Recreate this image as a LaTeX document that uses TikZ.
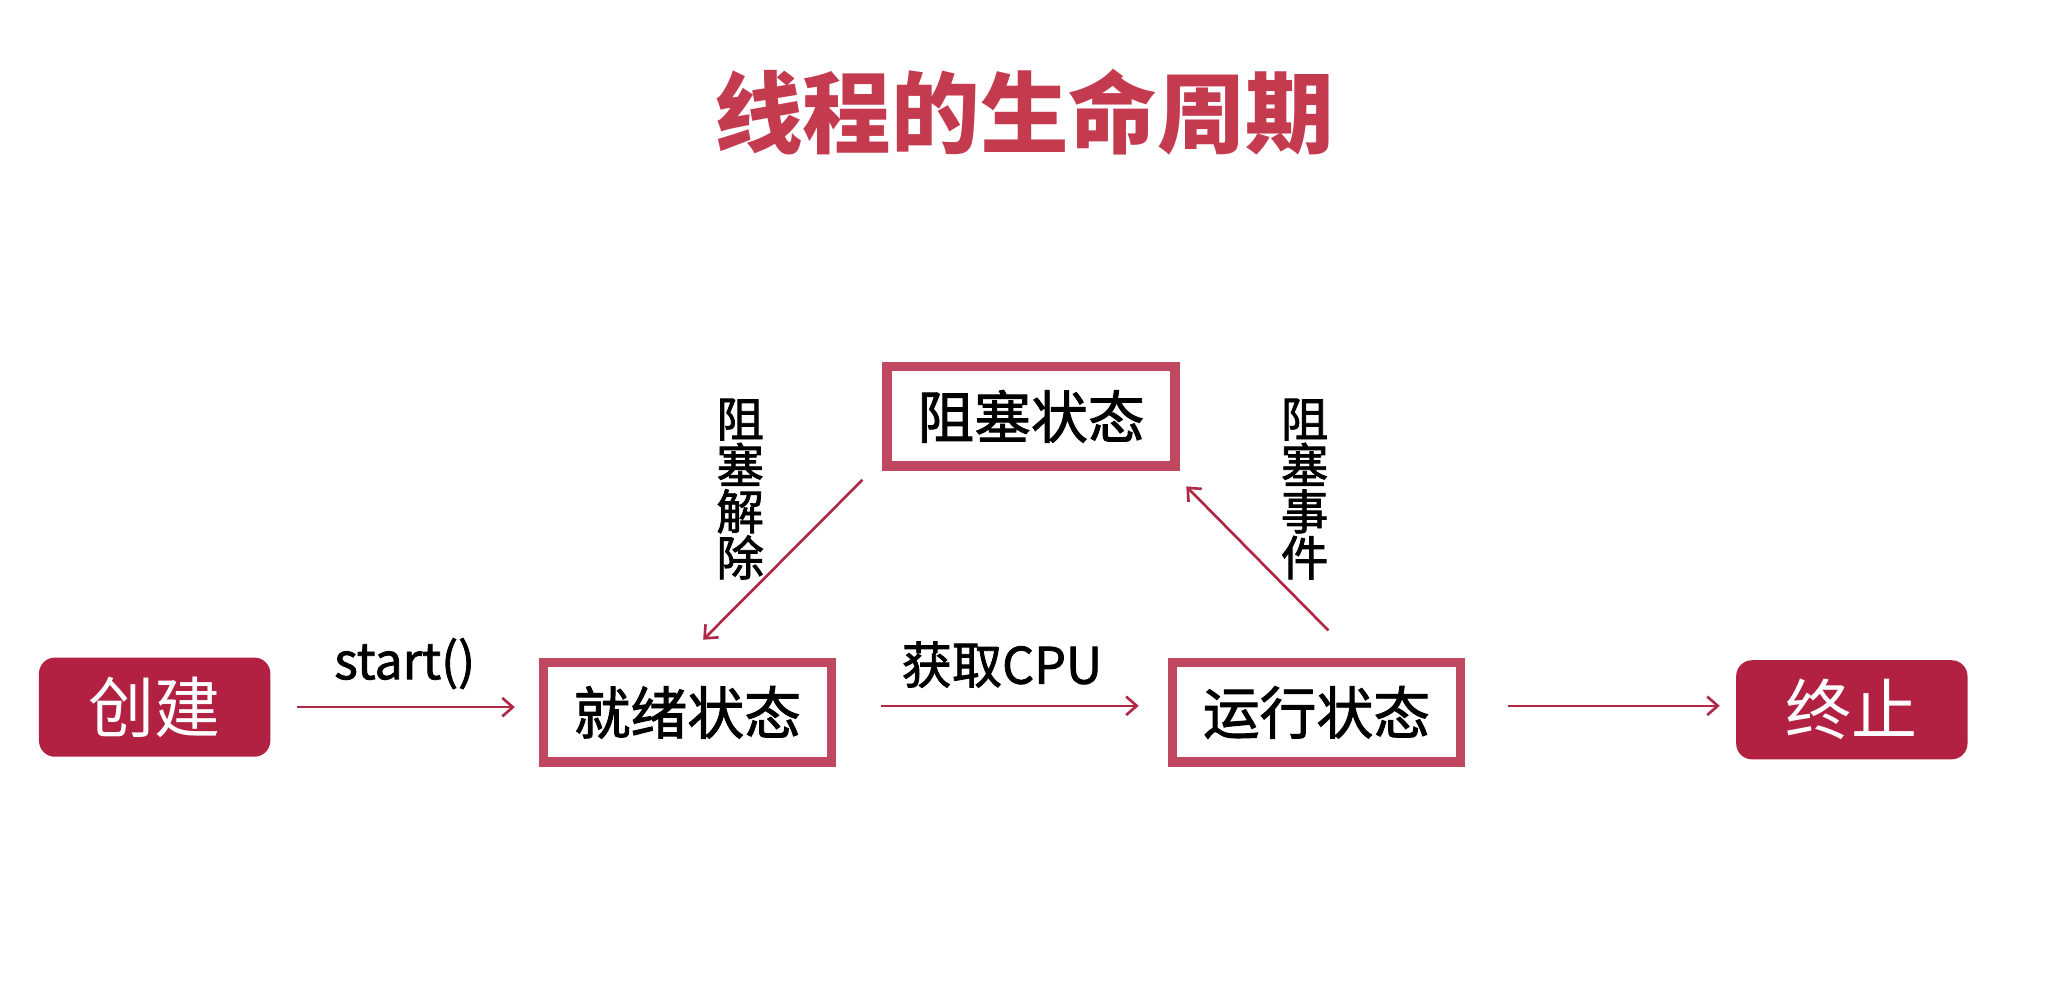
\documentclass[tikz,border=0pt]{standalone}
\usepackage{fontspec}
\setmainfont{Noto Sans CJK SC}
\newfontfamily\epais[FakeBold=1.6]{Noto Sans CJK SC}
\usetikzlibrary{arrows.meta}
\definecolor{titre}{RGB}{196,58,78}
\definecolor{bord}{RGB}{192,72,96}
\definecolor{plein}{RGB}{178,32,66}
\definecolor{fleche}{RGB}{176,40,70}
\tikzset{
  etat/.style={draw=bord,line width=3.5pt,fill=white,minimum width=109pt,minimum height=37.5pt,inner sep=0pt,font=\epais\fontsize{21.5}{24}\selectfont},
  borne/.style={fill=plein,rounded corners=6pt,text=white,minimum width=87.5pt,minimum height=37.5pt,inner sep=0pt,font=\fontsize{25}{28}\selectfont},
  lien/.style={draw=fleche,line width=1pt,-{Straight Barb[length=4pt,width=7pt]}},
  lbl/.style={font=\epais\fontsize{19}{21}\selectfont},
  vlbl/.style={align=center,font=\epais\fontsize{18}{17.5}\selectfont}
}

\begin{document}
\begin{tikzpicture}[x=0.5pt,y=0.5pt]
  \useasboundingbox (0,0) rectangle (1560,760);
  % titre
  \node[text=titre,font=\fontsize{33.5}{38}\selectfont\bfseries] (titre) at (775,675) {线程的生命周期};
  % définition des états
  \node[borne] (creer) at (117,225) {创建};
  \node[etat] (pret) at (520,221) {就绪状态};
  \node[etat] (bloque) at (780,445) {阻塞状态};
  \node[etat] (actif) at (996,221) {运行状态};
  \node[borne] (fin) at (1401,223) {终止};
  % transitions
  \draw[lien,shorten <=10pt,shorten >=9pt] (creer.east) -- (creer.east -| pret.west)
    node[midway,above=3pt,lbl] {start()};
  \draw[lien,shorten <=17pt,shorten >=11pt] ([yshift=2.5pt]pret.east) -- ([yshift=2.5pt]actif.west)
    node[midway,above=3pt,lbl] {获取CPU};
  \draw[lien,shorten <=16pt,shorten >=6pt] ([yshift=2.5pt]actif.east) -- ([yshift=2.5pt]actif.east -| fin.west);
  \draw[lien] ([shift={(-15,-7)}]bloque.south west) -- ([shift={(12,14)}]pret.north);
  \draw[lien] ([shift={(9,21)}]actif.north) -- ([shift={(5,-12)}]bloque.south east);
  % étiquettes verticales
  \node[vlbl] (libere) at (560,390) {阻\\塞\\解\\除};
  \node[vlbl] (attend) at (987,390) {阻\\塞\\事\\件};
\end{tikzpicture}
\end{document}
